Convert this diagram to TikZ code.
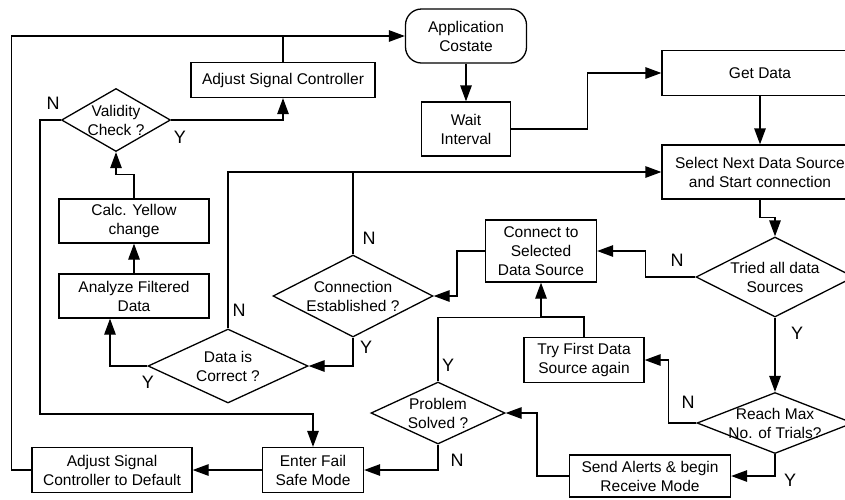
\documentclass[tikz,border=0pt]{standalone}
\usepackage{fontspec}
\setmainfont{Liberation Sans}
\usetikzlibrary{shapes.geometric, arrows.meta, positioning, calc}
\tikzset{
  proc/.style 2 args={draw, line width=1.3pt, rectangle, minimum width=#1, minimum height=#2,
               inner sep=0pt, align=center, font=\fontsize{15.5}{19}\selectfont},
  term/.style 2 args={proc={#1}{#2}, rounded corners=16pt},
  decision/.style n args={3}{draw, line width=1.3pt, diamond, minimum width=#1, minimum height=#2,
               inner sep=0pt, label={[align=center, font=\fontsize{15.5}{19}\selectfont]center:#3}},
  answer/.style={font=\fontsize{18}{18}\selectfont, inner sep=0pt},
  arrow/.style={-{Triangle[length=16pt,width=11.5pt]}, line width=1.3pt},
  link/.style={line width=1.3pt},
}

\begin{document}
\begin{tikzpicture}[x=1pt, y=-1pt]
\useasboundingbox (0,0) rectangle (845,499);

% process boxes
\node[term={121pt}{54pt}] (app) at (466,36) {Application\\Costate};
\node[proc={89pt}{54pt}] (wait) at (466,129) {Wait\\Interval};
\node[proc={196pt}{45pt}] (getdata) at (760,73) {Get Data};
\node[proc={196pt}{54pt}] (select) at (760,172) {Select Next Data Source\\and Start connection};
\node[proc={184pt}{35pt}] (adjsig) at (283,80) {Adjust Signal Controller};
\node[proc={150pt}{44pt}] (calc) at (134,221) {Calc. Yellow\\change};
\node[proc={150pt}{44pt}] (analyze) at (134,296) {Analyze Filtered\\Data};
\node[proc={111pt}{62pt}] (connect) at (541,251) {Connect to\\Selected\\Data Source};
\node[proc={120pt}{45pt}] (tryfirst) at (584,360) {Try First Data\\Source again};
\node[proc={161pt}{42pt}] (alert) at (650,476) {Send Alerts \& begin\\Receive Mode};
\node[proc={101pt}{45pt}] (failsafe) at (313,470) {Enter Fail\\Safe Mode};
\node[proc={160pt}{45pt}] (adjdef) at (112,470) {Adjust Signal\\Controller to Default};

% decisions
\node[decision={109pt}{63pt}{Validity\\Check ?}] (valid) at (116,120) {};
\node[decision={160pt}{74pt}{Data is\\Correct ?}] (datacor) at (228,366) {};
\node[decision={160pt}{82pt}{Connection\\Established ?}] (conn) at (353,296) {};
\node[decision={158pt}{80pt}{Tried all data\\Sources}] (tried) at (775,277) {};
\node[decision={156pt}{61pt}{Reach Max\\No. of Trials?}] (reach) at (775,423) {};
\node[decision={134pt}{62pt}{Problem\\Solved ?}] (solved) at (438,413) {};

% connectors
\draw[arrow] (adjdef.west) -- ++(-20,0) |- (app.west);
\draw[link] (adjsig.north) -- (adjsig.north |- app.west);
\draw[arrow] (valid.east) -| (adjsig.south);
\draw[arrow] (valid.west) -- ++(-21,0) |- ($(failsafe.north)+(0,-33)$) -- (failsafe.north);
\draw[arrow] (calc.north) -- ++(0,-24) -| (valid.south);
\draw[arrow] (analyze.north) -- (calc.south);
\draw[arrow] (datacor.west) -| ($(analyze.south)+(-24,0)$);
\draw[arrow] (datacor.north) |- (select.west);
\draw[link] (conn.north) -- (conn.north |- select.west);
\draw[arrow] (conn.south) |- (datacor.east);
\draw[arrow] (connect.west) -- ++(-28,0) |- (conn.east);
\draw[arrow] (tried.west) -- ++(-50,0) |- (connect.east);
\draw[arrow] (select.south) -- ++(0,18) -| (tried.north);
\draw[arrow] (tried.south) -- (reach.north);
\draw[arrow] (reach.west) -- ++(-28,0) |- (tryfirst.east);
\draw[arrow] (tryfirst.north) -- ++(0,-20) -| (connect.south);
\draw[link] (solved.north) |- ($(connect.south)+(0,35)$);
\draw[arrow] (solved.south) |- (failsafe.east);
\draw[arrow] (alert.west) -- ++(-32,0) |- (solved.east);
\draw[arrow] (reach.south) |- (alert.east);
\draw[arrow] (failsafe.west) -- (adjdef.east);
\draw[arrow] (app.south) -- (wait.north);
\draw[arrow] (wait.east) -- ++(76,0) |- (getdata.west);
\draw[arrow] (getdata.south) -- (select.north);

% yes / no marks
\node[answer] (validN) at (53,103) {N};
\node[answer] (validY) at (180,137) {Y};
\node[answer] (datacorN) at (239,310) {N};
\node[answer] (datacorY) at (148,382) {Y};
\node[answer] (connN) at (369,238) {N};
\node[answer] (connY) at (366,347) {Y};
\node[answer] (triedN) at (677,260) {N};
\node[answer] (triedY) at (797,333) {Y};
\node[answer] (reachN) at (688,402) {N};
\node[answer] (reachY) at (790,480) {Y};
\node[answer] (solvedY) at (448,365) {Y};
\node[answer] (solvedN) at (457,460) {N};
\end{tikzpicture}
\end{document}
